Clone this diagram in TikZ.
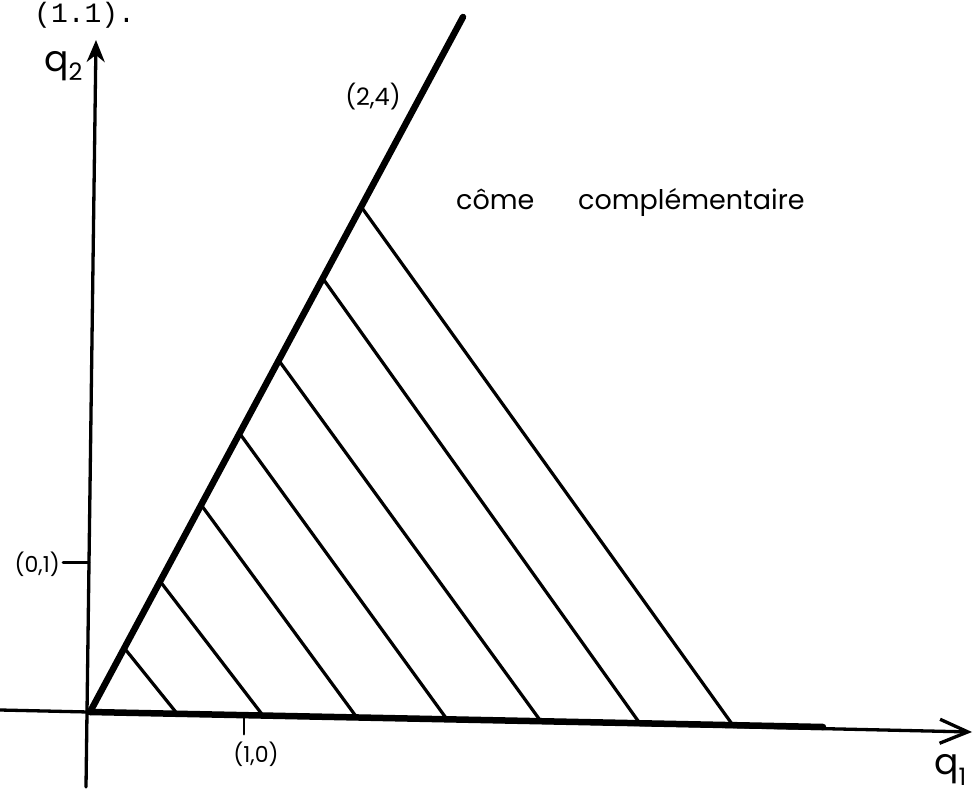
\documentclass[tikz,border=0pt]{standalone}
\usepackage{fontspec}
\setmainfont{Poppins}
\newfontfamily\monofont{Liberation Mono}
\usetikzlibrary{arrows.meta,calc}
\begin{document}
\begin{tikzpicture}[x=1pt,y=-1pt,line cap=round,
  axisline/.style={line width=3.3pt},
  coneline/.style={line width=6.5pt},
  hatchline/.style={line width=3.2pt},
  tickline/.style={line width=2.8pt},
  lbl/.style={inner sep=0pt,font=\fontsize{22}{26}\selectfont},
  biglbl/.style={inner sep=0pt,font=\fontsize{36}{40}\selectfont},
  midlbl/.style={inner sep=0pt,font=\fontsize{27}{32}\selectfont}]
\useasboundingbox (0,0) rectangle (980,794);
% key points
\coordinate (O) at (90,712);
\coordinate (T) at (463,17);
\coordinate (XL) at (0,710);
\coordinate (XE) at (823,727);
\coordinate (XT) at (972,732);
\coordinate (YB) at (86,787);
\coordinate (YT) at (96,40);
% axes
\draw[axisline,-{Straight Barb[length=28pt,width=24pt]}] (XL) -- (XT);
\draw[axisline,-{Stealth[length=22pt,width=18pt,inset=7pt]}] (YB) -- (YT);
% thick half-axis and cone edge
\draw[coneline] (O) -- (XE);
\draw[coneline] (O) -- (T);
% hatching
\foreach \a/\b [count=\i] in {0.092/0.119,0.188/0.236,0.298/0.364,0.401/0.487,0.506/0.615,0.624/0.750,0.727/0.877}{
  \coordinate (h\i s) at ($(O)!\a!(T)$);
  \coordinate (h\i e) at ($(O)!\b!(XE)$);
  \draw[hatchline] (h\i s) -- (h\i e);
}
% ticks
\coordinate (ty) at ($(YB)!0.301!(YT)$);
\coordinate (tyl) at ($(ty)+(-26,0)$);
\draw[tickline] (tyl) -- (ty);
\coordinate (tx) at ($(O)!0.21!(XE)$);
\coordinate (txb) at ($(tx)+(0,19)$);
\draw[tickline] (tx) -- (txb);
% labels
\node[lbl,anchor=east] (l01) at ($(tyl)+(-3,2)$) {(0,1)};
\node[lbl] (l10) at (256,754) {(1,0)};
\node[inner sep=0pt,font=\fontsize{24}{28}\selectfont] (l24) at (373,97) {(2,4)};
\node[biglbl,anchor=base west] (q2) at (44,72) {q\raisebox{-9pt}{\fontsize{24}{28}\selectfont 2}};
\node[biglbl,anchor=base west] (q1) at (934,774) {q\raisebox{-11pt}{\fontsize{24}{28}\selectfont 1}};
\node[midlbl,anchor=base west] (w1) at (456,210) {côme};
\node[midlbl,anchor=base west] (w2) at (578,210) {complémentaire};
\node[inner sep=0pt,anchor=base west,font=\monofont\fontsize{28}{32}\selectfont] (eq) at (34,23) {(1.1).};
\end{tikzpicture}
\end{document}
